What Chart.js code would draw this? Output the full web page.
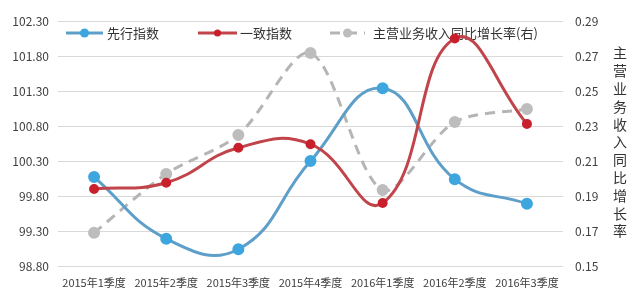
<!DOCTYPE html>
<html>
<head>
<meta charset="utf-8">
<script src="https://cdn.jsdelivr.net/npm/chart.js@4/dist/chart.umd.min.js"></script>
<style>
  html, body { margin: 0; padding: 0; background: #fff; }
  #wrap { width: 640px; height: 294px; position: relative; }
</style>
</head>
<body>
<div id="wrap"><canvas id="chart"></canvas></div>
<script>
const quarters = ['2015年1季度', '2015年2季度', '2015年3季度', '2015年4季度', '2016年1季度', '2016年2季度', '2016年3季度'];
const leadIndex = [100.07, 99.19, 99.04, 100.30, 101.34, 100.04, 99.69];
const coincidentIndex = [99.90, 99.99, 100.49, 100.54, 99.70, 102.05, 100.83];
const revenueGrowth = [0.169, 0.2026, 0.2249, 0.2717, 0.1934, 0.2323, 0.2397];
const leftTicks = [98.8, 99.3, 99.8, 100.3, 100.8, 101.3, 101.8, 102.3];
const rightTicks = [0.15, 0.17, 0.19, 0.21, 0.23, 0.25, 0.27, 0.29];
const seriesNames = ['先行指数', '一致指数', '主营业务收入同比增长率(右)'];
const rightTitle = '主营业务收入同比增长率';

const FONT = '"Noto Sans CJK SC", "Noto Sans", sans-serif';
const textColor = '#404040';
const gridColor = '#d9d9d9';

// legend sits inside the plot, drawn under the lines
const overlay = {
    id: 'overlay',
    beforeDatasetsDraw(chart) {
        const ctx = chart.ctx;
        const items = [
            { x: 66, w: 37, text: 107, ds: chart.data.datasets[0] },
            { x: 198, w: 39, text: 240, ds: chart.data.datasets[1] },
            { x: 330, w: 35, text: 373, ds: chart.data.datasets[2] }
        ];
        const y = 33;
        ctx.save();
        items.forEach(it => {
            ctx.strokeStyle = it.ds.borderColor;
            ctx.lineWidth = 3;
            ctx.setLineDash(it.ds.borderDash || []);
            ctx.beginPath();
            ctx.moveTo(it.x, y);
            ctx.lineTo(it.x + it.w, y);
            ctx.stroke();
            ctx.setLineDash([]);
            ctx.fillStyle = it.ds.pointBackgroundColor;
            ctx.beginPath();
            ctx.arc(it.x + it.w / 2, y, it.ds.pointRadius, 0, Math.PI * 2);
            ctx.fill();
            ctx.fillStyle = '#333';
            ctx.font = '13px ' + FONT;
            ctx.textAlign = 'left';
            ctx.textBaseline = 'middle';
            ctx.fillText(it.ds.label, it.text, y);
        });
        ctx.restore();
    },
    afterDraw(chart) {
        const ctx = chart.ctx;
        ctx.save();
        ctx.fillStyle = '#333';
        ctx.font = '14px ' + FONT;
        ctx.textAlign = 'center';
        ctx.textBaseline = 'middle';
        [...rightTitle].forEach((ch, i) => {
            ctx.fillText(ch, 620, 53 + i * 17.8);
        });
        ctx.restore();
    }
};

new Chart(document.getElementById('chart'), {
    type: 'line',
    data: {
        labels: quarters,
        datasets: [
            {
                label: seriesNames[0],
                data: leadIndex,
                yAxisID: 'y',
                borderColor: '#5e9fca',
                borderWidth: 3,
                pointBackgroundColor: '#3ea6df',
                pointBorderColor: '#3ea6df',
                pointRadius: 4.5,
                tension: 0.45,
                order: 1
            },
            {
                label: seriesNames[1],
                data: coincidentIndex,
                yAxisID: 'y',
                borderColor: '#c2444b',
                borderWidth: 3,
                pointBackgroundColor: '#c9202e',
                pointBorderColor: '#c9202e',
                pointRadius: 3.5,
                tension: 0.45,
                order: 0
            },
            {
                label: seriesNames[2],
                data: revenueGrowth,
                yAxisID: 'y1',
                borderColor: '#b5b5b5',
                borderWidth: 3,
                borderDash: [10, 7],
                pointBackgroundColor: '#bdbdbd',
                pointBorderColor: '#bdbdbd',
                pointRadius: 4.5,
                tension: 0.3,
                order: 2
            }
        ]
    },
    options: {
        responsive: true,
        maintainAspectRatio: false,
        animation: false,
        layout: { padding: { top: 21, bottom: 0, left: 0, right: 0 } },
        plugins: {
            legend: { display: false },
            tooltip: { enabled: false }
        },
        scales: {
            x: {
                offset: true,
                grid: { display: false, drawTicks: false, offset: true },
                border: { display: false },
                ticks: {
                    color: textColor,
                    font: { family: FONT, size: 11 },
                    padding: 10,
                    maxRotation: 0,
                    autoSkip: false
                },
                afterFit(scale) { scale.height = 28; }
            },
            y: {
                position: 'left',
                min: 98.8,
                max: 102.3,
                afterBuildTicks(scale) { scale.ticks = leftTicks.map(v => ({ value: v })); },
                grid: { color: gridColor, lineWidth: 1, drawTicks: false },
                border: { display: false },
                ticks: {
                    color: textColor,
                    font: { family: FONT, size: 12 },
                    padding: 9,
                    callback: v => v.toFixed(2)
                },
                afterFit(scale) { scale.width = 58; }
            },
            y1: {
                position: 'right',
                min: 0.15,
                max: 0.29,
                afterBuildTicks(scale) { scale.ticks = rightTicks.map(v => ({ value: v })); },
                grid: { display: false, drawTicks: false },
                border: { display: false },
                ticks: {
                    color: textColor,
                    font: { family: FONT, size: 12 },
                    padding: 12,
                    callback: v => v.toFixed(2)
                },
                afterFit(scale) { scale.width = 77; }
            }
        }
    },
    plugins: [overlay]
});
</script>
</body>
</html>
